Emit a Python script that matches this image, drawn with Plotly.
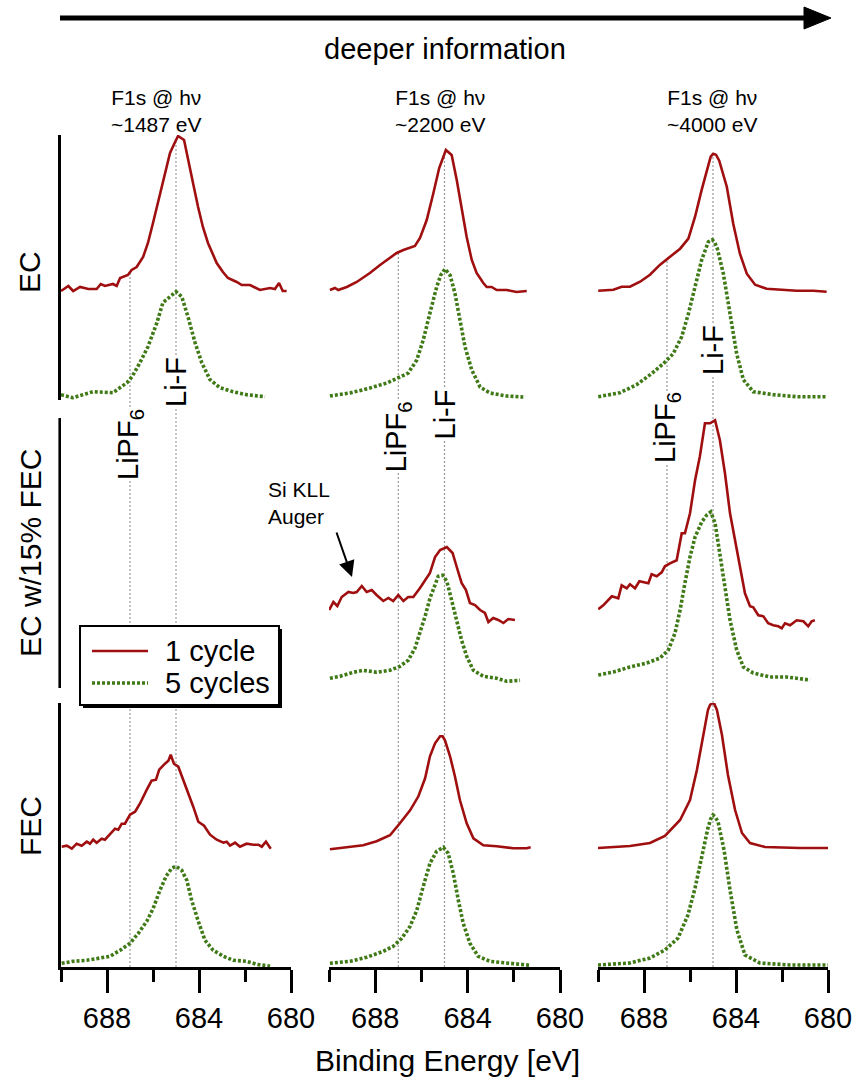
import numpy as np
import plotly.graph_objects as go
from plotly.subplots import make_subplots

W, H = 854, 1080
FONT = "Liberation Sans, Arial, sans-serif"
RED = "#a00f0f"
GREEN = "#3f7a16"

# ---------------- data (binding energy [eV], intensity [a.u.]) ----------------
# Row 1: EC
ec_1487_1cyc_E = [690.0, 689.68, 689.47, 689.17, 688.81, 688.45, 688.27, 688.09, 687.74, 687.58,
                  687.43, 687.09, 686.93, 686.71, 686.43, 686.22, 686.0, 685.78, 685.57, 685.26,
                  685.04, 684.91, 684.65, 684.48, 684.26, 684.04, 683.83, 683.61, 683.23, 682.96,
                  682.74, 682.36, 682.14, 681.78, 681.35, 680.91, 680.7, 680.52, 680.36, 680.19]
ec_1487_1cyc_I = [0, 5, 0, 4, 2, 2, 7, 5, 7, 5,
                  13, 16, 21, 24, 34, 48, 68, 88, 108, 138,
                  149, 155, 151, 131, 108, 84, 64, 48, 28, 19,
                  13, 9, 6, 6, 1, 3, 2, 8, 0, 0]
ec_1487_5cyc_E = [690.0, 689.48, 688.61, 687.74, 687.13, 686.91, 686.57, 686.22, 685.83, 685.57, 685.26,
                  685.0, 684.75, 684.48, 684.17, 683.88, 683.52, 683.09, 682.52, 681.93, 681.13]
ec_1487_5cyc_I = [2, -1, 5, 4, 14, 20, 34, 50, 74, 94, 100, 105, 100, 80, 54, 34, 17, 9, 5, 2, 0]

ec_2200_1cyc_E = [689.96, 689.74, 689.6, 689.23, 688.8, 688.23, 687.79, 687.36, 687.07, 686.78,
                  686.28, 686.06, 685.77, 685.48, 685.23, 684.94, 684.69, 684.47, 684.26, 684.04,
                  683.82, 683.61, 683.32, 683.17, 682.96, 682.74, 682.31, 681.88, 681.44]
ec_2200_1cyc_I = [0, 2, 0, 3, 8, 17, 25, 32, 37, 40,
                  44, 52, 70, 97, 122, 140, 135, 110, 80, 53,
                  30, 17, 7, 3, 3, 0, 0, -2, -1]
ec_2200_5cyc_E = [689.96, 689.09, 688.23, 687.5, 686.93, 686.57, 686.2, 685.92, 685.63, 685.34, 685.16,
                  684.98, 684.76, 684.55, 684.33, 684.11, 683.82, 683.46, 683.03, 682.31, 681.59]
ec_2200_5cyc_I = [0, 3, 8, 13, 19, 23, 36, 56, 83, 109, 121, 127, 121, 103, 76, 49, 26, 9, 3, 0, -1]

ec_4000_1cyc_E = [689.99, 689.33, 688.97, 688.61, 688.17, 687.74, 687.3, 686.94, 686.43, 686.07,
                  685.78, 685.49, 685.2, 685.1, 684.99, 684.87, 684.73, 684.4, 684.12, 683.83,
                  683.53, 683.17, 682.67, 682.09, 681.36, 680.64, 680.06]
ec_4000_1cyc_I = [0, 1, 4, 4, 9, 16, 26, 33, 42, 52,
                  74, 101, 127, 134, 137, 136, 130, 104, 67, 37,
                  17, 6, 2, 1, 0, 0, -1]
ec_4000_5cyc_E = [689.99, 689.04, 688.32, 687.67, 687.16, 686.73, 686.36, 686.07, 685.78, 685.49, 685.2,
                  685.03, 684.92, 684.81, 684.55, 684.26, 683.97, 683.68, 683.25, 682.38, 681.36, 680.06]
ec_4000_5cyc_I = [0, 4, 12, 23, 33, 43, 60, 83, 110, 137, 155, 157, 154, 148, 123, 83, 43, 17, 5, 2,
                  0, 0]

# Row 2: EC w/15% FEC (no 1487 eV data)
mix_2200_1cyc_E = [689.99, 689.81, 689.64, 689.45, 689.16, 688.95, 688.8, 688.58, 688.37, 688.15,
                   687.94, 687.65, 687.43, 687.22, 687.0, 686.78, 686.57, 686.35, 686.06, 685.84,
                   685.63, 685.41, 685.19, 684.9, 684.65, 684.47, 684.26, 684.07, 683.9, 683.68,
                   683.46, 683.25, 683.1, 682.89, 682.67, 682.45, 682.24, 681.95]
mix_2200_1cyc_I = [0, 8, 4, 13, 18, 17, 18, 24, 18, 20,
                   15, 9, 12, 9, 15, 9, 13, 13, 22, 30,
                   37, 53, 60, 63, 57, 43, 27, 20, 7, 5,
                   0, -3, -12, -8, -10, -13, -9, -10]
mix_2200_5cyc_E = [689.96, 689.52, 688.95, 688.52, 687.94, 687.36, 686.93, 686.57, 686.28, 686.06,
                   685.84, 685.63, 685.41, 685.27, 685.08, 684.9, 684.69, 684.47, 684.26, 684.04,
                   683.75, 683.32, 682.74, 682.31, 681.73]
mix_2200_5cyc_I = [0, 2, 6, 8, 6, 8, 12, 18, 30, 45, 62, 80, 95, 102, 103, 97, 78, 58, 38, 22,
                   8, 2, 0, -3, -2]

mix_4000_1cyc_E = [689.99, 689.77, 689.4, 689.12, 688.97, 688.75, 688.61, 688.39, 688.2, 688.03,
                   687.81, 687.67, 687.45, 687.23, 687.09, 686.87, 686.58, 686.36, 686.22, 686.0,
                   685.78, 685.57, 685.35, 685.13, 684.91, 684.7, 684.48, 684.26, 684.04, 683.83,
                   683.61, 683.39, 683.25, 683.03, 682.81, 682.6, 682.38, 682.16, 682.01, 681.87,
                   681.65, 681.36, 681.07, 680.86, 680.71, 680.57]
mix_4000_1cyc_I = [0, 4, 13, 11, 24, 21, 25, 21, 28, 27,
                   26, 35, 33, 37, 43, 46, 49, 76, 76, 96,
                   129, 153, 186, 186, 189, 169, 136, 96, 69, 43,
                   16, 3, 2, -6, -7, -14, -16, -17, -19, -14,
                   -16, -11, -12, -17, -12, -11]
mix_4000_5cyc_E = [689.99, 689.33, 688.61, 687.88, 687.3, 686.94, 686.65, 686.43, 686.22, 686.0,
                   685.78, 685.49, 685.27, 685.1, 684.91, 684.7, 684.48, 684.26, 683.97, 683.68,
                   683.25, 682.52, 681.8, 680.78]
mix_4000_5cyc_I = [0, 3, 8, 12, 17, 25, 42, 65, 92, 118, 138, 153, 160, 163, 152, 122, 88, 55, 25, 8,
                   2, -2, -2, -5]

# Row 3: FEC
fec_1487_1cyc_E = [689.97, 689.75, 689.53, 689.32, 689.1, 688.88, 688.74, 688.6, 688.45, 688.23,
                   688.09, 687.87, 687.65, 687.51, 687.36, 687.22, 687.0, 686.78, 686.57, 686.27,
                   686.06, 685.87, 685.73, 685.48, 685.33, 685.23, 685.09, 684.9, 684.68, 684.47,
                   684.25, 684.03, 683.78, 683.52, 683.23, 682.94, 682.8, 682.65, 682.43, 682.22,
                   681.93, 681.64, 681.42, 681.27, 681.09, 680.88]
fec_1487_1cyc_I = [0, 1, -2, 3, 1, 5, 3, 7, 4, 8,
                   7, 13, 18, 17, 23, 23, 32, 35, 43, 57,
                   66, 67, 77, 83, 86, 92, 83, 80, 67, 53,
                   40, 25, 21, 12, 7, 4, 5, 1, 4, 0,
                   3, 2, 2, 0, 5, -2]
fec_1487_5cyc_E = [689.97, 689.47, 688.88, 688.3, 687.87, 687.43, 687.0, 686.64, 686.27, 685.99,
                   685.7, 685.43, 685.19, 685.0, 684.75, 684.53, 684.32, 684.03, 683.74, 683.38,
                   682.94, 682.51, 681.93, 681.49, 680.91]
fec_1487_5cyc_I = [0, 2, 3, 5, 7, 13, 20, 30, 42, 55, 73, 87, 95, 97, 93, 83, 63, 42, 23, 13,
                   7, 3, 2, -1, -3]

fec_2200_1cyc_E = [689.96, 689.23, 688.52, 687.94, 687.36, 686.93, 686.49, 686.13, 685.84, 685.63,
                   685.41, 685.19, 685.08, 684.98, 684.76, 684.55, 684.33, 684.04, 683.75, 683.32,
                   682.74, 682.02, 681.44, 681.27]
fec_2200_1cyc_I = [0, 2, 4, 8, 14, 26, 39, 53, 71, 93,
                   106, 113, 113, 109, 93, 73, 49, 26, 11, 4,
                   3, 1, 1, 2]
fec_2200_5cyc_E = [689.96, 689.09, 688.37, 687.65, 687.22, 686.85, 686.49, 686.2, 685.92, 685.63,
                   685.34, 685.05, 684.84, 684.62, 684.4, 684.19, 683.9, 683.54, 683.03, 682.31, 681.3]
fec_2200_5cyc_I = [0, 2, 6, 12, 17, 25, 37, 53, 77, 100, 112, 116, 110, 90, 63, 40, 20, 7, 2, 0, -2]

fec_4000_1cyc_E = [690.0, 688.61, 687.74, 687.09, 686.43, 686.0, 685.7, 685.43, 685.22, 685.13,
                   685.04, 684.94, 684.83, 684.61, 684.35, 684.04, 683.74, 683.39, 682.74, 681.22, 680.0]
fec_4000_1cyc_I = [0, 2, 5, 12, 28, 48, 78, 113, 138, 143, 145, 144, 138, 113, 73, 38, 15, 5, 1,
                   0, 0]
fec_4000_5cyc_E = [690.0, 688.61, 687.74, 687.09, 686.52, 686.09, 685.78, 685.48, 685.22, 685.1,
                   685.0, 684.9, 684.78, 684.52, 684.26, 683.96, 683.61, 682.96, 681.65, 680.0]
fec_4000_5cyc_I = [0, 2, 7, 15, 27, 50, 77, 110, 137, 146, 150, 148, 143, 115, 75, 35, 10, 2, 0, 0]

row_labels = ["EC", "EC w/15% FEC", "FEC"]
col_titles = ["F1s @ h\u03bd<br>~1487 eV", "F1s @ h\u03bd<br>~2200 eV", "F1s @ h\u03bd<br>~4000 eV"]
series_names = ["1 cycle", "5 cycles"]
tick_vals = [688, 684, 680]
minor_tick_vals = [690, 686, 682]
ref_lines = {"LiPF<sub>6</sub>": 687.0, "Li-F": 685.0}

# ---------------- layout geometry (pixels) ----------------
col_px = [(61, 291), (329, 560), (598, 828)]
row_px = [(135, 400), (418, 688), (703, 967)]
# vertical stacking offsets of the spectra (a.u.) : [1 cycle, 5 cycles]
offsets = [
    [(109, 3.3), (110, 4.0), (109.3, 3.3)],
    [(None, None), (78, 9.7), (78.7, 13)],
    [(120.3, 3.7), (117.7, 3.7), (119, 2)],
]

panels = [
    [(ec_1487_1cyc_E, ec_1487_1cyc_I, ec_1487_5cyc_E, ec_1487_5cyc_I),
     (ec_2200_1cyc_E, ec_2200_1cyc_I, ec_2200_5cyc_E, ec_2200_5cyc_I),
     (ec_4000_1cyc_E, ec_4000_1cyc_I, ec_4000_5cyc_E, ec_4000_5cyc_I)],
    [None,
     (mix_2200_1cyc_E, mix_2200_1cyc_I, mix_2200_5cyc_E, mix_2200_5cyc_I),
     (mix_4000_1cyc_E, mix_4000_1cyc_I, mix_4000_5cyc_E, mix_4000_5cyc_I)],
    [(fec_1487_1cyc_E, fec_1487_1cyc_I, fec_1487_5cyc_E, fec_1487_5cyc_I),
     (fec_2200_1cyc_E, fec_2200_1cyc_I, fec_2200_5cyc_E, fec_2200_5cyc_I),
     (fec_4000_1cyc_E, fec_4000_1cyc_I, fec_4000_5cyc_E, fec_4000_5cyc_I)],
]

RED_LINE = dict(color=RED, width=2.6)
GREEN_LINE = dict(color=GREEN, width=3.6, dash="3px,2px")


def px(x):
    return x / W


def py(y):
    return 1 - y / H


fig = make_subplots(rows=3, cols=3)

for r in range(3):
    for c in range(3):
        p = panels[r][c]
        if p is None:
            continue
        e1, i1, e5, i5 = p
        o1, o5 = offsets[r][c]
        fig.add_trace(go.Scatter(x=e1, y=[o1 + v for v in i1], mode="lines",
                                 line=RED_LINE, name=series_names[0], showlegend=False),
                      row=r + 1, col=c + 1)
        fig.add_trace(go.Scatter(x=e5, y=[o5 + v for v in i5], mode="lines",
                                 line=GREEN_LINE, name=series_names[1], showlegend=False),
                      row=r + 1, col=c + 1)

# axes domains / ranges
for r in range(3):
    for c in range(3):
        k = r * 3 + c + 1
        xa = "xaxis" if k == 1 else f"xaxis{k}"
        ya = "yaxis" if k == 1 else f"yaxis{k}"
        x0, x1 = col_px[c]
        y0, y1 = row_px[r]
        xdict = dict(domain=[px(x0), px(x1)], range=[690, 680], showgrid=False, zeroline=False,
                     automargin=False)
        if r == 2:
            xdict.update(showline=True, linecolor="black", linewidth=2.6, ticks="outside",
                         tickmode="array", tickvals=tick_vals, ticklen=23, tickwidth=2.6,
                         tickcolor="black", tickfont=dict(family=FONT, size=29, color="black"),
                         minor=dict(tickmode="array", tickvals=minor_tick_vals, ticklen=12,
                                    tickwidth=2.6, tickcolor="black", ticks="outside"))
        else:
            xdict.update(visible=False)
        ydict = dict(domain=[py(y1), py(y0)], range=[0, y1 - y0], showgrid=False,
                     zeroline=False, showticklabels=False, ticks="", automargin=False)
        if c == 0:
            ydict.update(showline=True, linecolor="black", linewidth=2.6)
        else:
            ydict.update(visible=False)
        fig.layout[xa].update(xdict)
        fig.layout[ya].update(ydict)

shapes = []
# left axis line of the empty middle-row panel (no traces there, so draw it explicitly)
shapes.append(dict(type="line", xref="paper", yref="paper",
                   x0=px(col_px[0][0]) - 1.3 / W, x1=px(col_px[0][0]) - 1.3 / W,
                   y0=py(row_px[1][1]), y1=py(row_px[1][0]),
                   line=dict(color="black", width=2.6)))

# reference dotted lines from the top (1 cycle) spectrum down to the energy axis
for c in range(3):
    e1, i1, _, _ = panels[0][c]
    o1 = offsets[0][c][0]
    xr = "x" if c == 0 else f"x{c + 1}"
    for label, e in ref_lines.items():
        top_val = o1 + float(np.interp(e, e1[::-1], i1[::-1]))
        top_px = row_px[0][1] - top_val
        shapes.append(dict(type="line", xref=xr, yref="paper", x0=e, x1=e,
                           y0=py(row_px[2][1]), y1=py(top_px), layer="below",
                           line=dict(color="#9a9a9a", width=1.2, dash="2px,2px")))

# top arrow "deeper information"
shapes.append(dict(type="line", xref="paper", yref="paper", x0=px(60), x1=px(808),
                   y0=py(18), y1=py(18), line=dict(color="black", width=5)))
shapes.append(dict(type="path", xref="paper", yref="paper",
                   path=f"M {px(804)} {py(7)} L {px(831)} {py(18)} L {px(804)} {py(29)} Z",
                   fillcolor="black", line=dict(color="black", width=1)))

# legend box (drawn with shapes so its geometry matches)
LX0, LY0, LX1, LY1 = 80, 626, 279, 705
shapes.append(dict(type="rect", xref="paper", yref="paper", layer="above",
                   x0=px(LX0 + 3), x1=px(LX1 + 3), y0=py(LY1 + 3), y1=py(LY0 + 3),
                   fillcolor="black", line=dict(width=0)))
shapes.append(dict(type="rect", xref="paper", yref="paper", layer="above",
                   x0=px(LX0), x1=px(LX1), y0=py(LY1), y1=py(LY0),
                   fillcolor="white", line=dict(color="black", width=2)))
legend_rows = [651, 683]
for line_style, yy in zip([RED_LINE, GREEN_LINE], legend_rows):
    shapes.append(dict(type="line", xref="paper", yref="paper", layer="above",
                       x0=px(92), x1=px(148), y0=py(yy), y1=py(yy), line=line_style))

annotations = []


def text(t, x, y, size, xref="paper", angle=0, **kw):
    d = dict(text=t, x=x, y=y, xref=xref, yref="paper", showarrow=False,
             xanchor=kw.pop("xanchor", "center"), yanchor=kw.pop("yanchor", "middle"),
             textangle=angle, font=dict(family=FONT, size=size, color="black"))
    d.update(kw)
    annotations.append(d)


text("deeper information", px(445), py(49), 29)
title_x = [156, 440, 712]
for c in range(3):
    text(col_titles[c], px(title_x[c]), py(111), 21)
row_label_y = [272, 553, 826]
for r in range(3):
    text(row_labels[r], px(30), py(row_label_y[r]), 30, angle=-90)

# peak labels
label_pos = [
    {"LiPF<sub>6</sub>": 445, "Li-F": 382},
    {"LiPF<sub>6</sub>": 437, "Li-F": 415},
    {"LiPF<sub>6</sub>": 428, "Li-F": 350},
]
for c in range(3):
    xr = "x" if c == 0 else f"x{c + 1}"
    for label, e in ref_lines.items():
        text(label, e, py(label_pos[c][label]), 29, xref=xr, angle=-90,
             bgcolor="white", borderpad=0)

# legend texts
for name, yy in zip(series_names, legend_rows):
    text(name, px(163), py(yy), 29, xanchor="left")

# Si KLL Auger annotation
text("Si KLL<br>Auger", px(266), py(503), 21, xanchor="left", align="left")
annotations.append(dict(text="", x=px(352), y=py(577), xref="paper", yref="paper",
                        showarrow=True, ax=-16, ay=-46, arrowhead=2, arrowsize=1.6,
                        arrowwidth=2, arrowcolor="black"))

# x-axis title
text("Binding Energy [eV]", px(447), py(1060), 30)

fig.update_layout(
    width=W, height=H, margin=dict(l=0, r=0, t=0, b=0, autoexpand=False),
    paper_bgcolor="white", plot_bgcolor="rgba(0,0,0,0)",
    shapes=shapes, annotations=annotations, showlegend=False,
    font=dict(family=FONT, color="black"),
)

fig.write_html("out.html")
